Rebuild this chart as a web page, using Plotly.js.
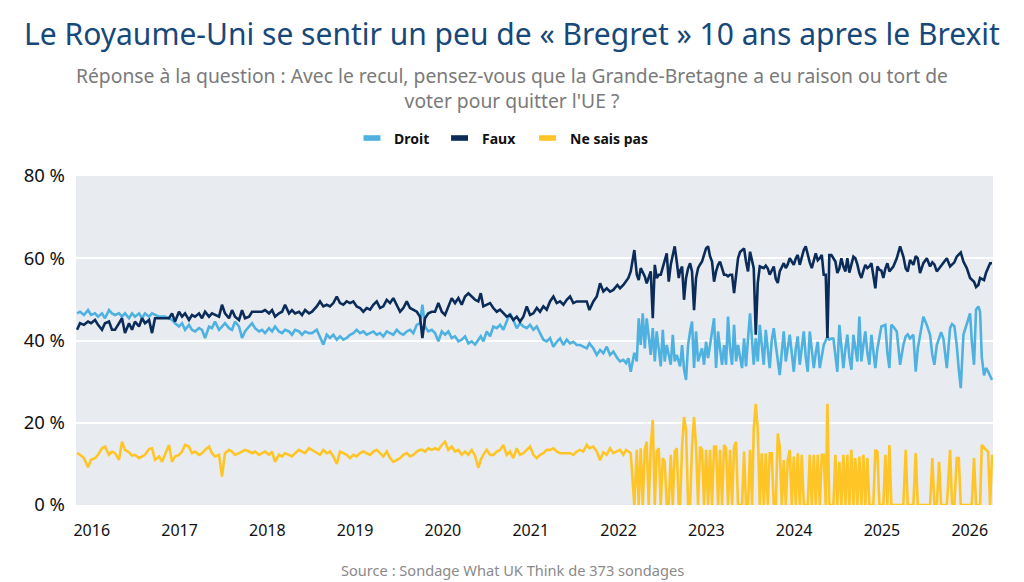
<!DOCTYPE html>
<html>
<head>
<meta charset="utf-8">
<script src="https://cdn.plot.ly/plotly-3.0.1.min.js"></script>
<style>
  html, body { margin: 0; padding: 0; background: #ffffff; }
  #chart { width: 1024px; height: 582px; }
</style>
</head>
<body>
<div id="chart"></div>
<script>
// Poll dates as decimal years (fieldwork date of each poll)
const pollDates = [
  2015.833, 2015.867, 2015.912, 2015.958, 2015.992, 2016.038, 2016.072, 2016.117, 2016.151, 2016.197,
  2016.231, 2016.265, 2016.311, 2016.345, 2016.379, 2016.425, 2016.459, 2016.493, 2016.539, 2016.573,
  2016.607, 2016.653, 2016.687, 2016.721, 2016.767, 2016.801, 2016.835, 2016.880, 2016.915, 2016.949,
  2016.994, 2017.029, 2017.063, 2017.108, 2017.142, 2017.177, 2017.222, 2017.256, 2017.291, 2017.336,
  2017.370, 2017.404, 2017.450, 2017.484, 2017.518, 2017.564, 2017.598, 2017.632, 2017.678, 2017.712,
  2017.746, 2017.792, 2017.826, 2017.860, 2017.906, 2017.940, 2017.974, 2018.019, 2018.054, 2018.088,
  2018.133, 2018.168, 2018.202, 2018.247, 2018.281, 2018.316, 2018.361, 2018.395, 2018.430, 2018.475,
  2018.509,
  2018.563, 2018.600, 2018.638, 2018.677, 2018.714, 2018.752, 2018.791, 2018.828, 2018.866, 2018.904,
  2018.942, 2018.980, 2019.018, 2019.056, 2019.093, 2019.132, 2019.170, 2019.207, 2019.246, 2019.284,
  2019.321, 2019.360, 2019.398, 2019.435, 2019.474, 2019.512, 2019.549, 2019.588, 2019.625, 2019.663,
  2019.702, 2019.739, 2019.766, 2019.796, 2019.834, 2019.873, 2019.910, 2019.948, 2019.987, 2020.024,
  2020.062, 2020.100, 2020.138, 2020.176, 2020.214, 2020.252, 2020.290, 2020.328, 2020.366, 2020.403,
  2020.431, 2020.460, 2020.499, 2020.537, 2020.574, 2020.613, 2020.651, 2020.688, 2020.727, 2020.764,
  2020.802, 2020.841, 2020.878, 2020.916, 2020.955, 2020.992, 2021.030, 2021.069, 2021.106, 2021.144,
  2021.182, 2021.220,
  2021.258, 2021.296, 2021.334, 2021.372, 2021.410, 2021.448, 2021.485, 2021.524, 2021.562, 2021.599,
  2021.638, 2021.668, 2021.713, 2021.752, 2021.790, 2021.827, 2021.866, 2021.903, 2021.941, 2021.987,
  2022.017, 2022.055, 2022.086, 2022.112, 2022.139,
  2022.180, 2022.208, 2022.230, 2022.253, 2022.276, 2022.299, 2022.321, 2022.344, 2022.367, 2022.390,
  2022.413, 2022.435, 2022.458, 2022.481, 2022.504, 2022.526, 2022.549, 2022.572, 2022.595, 2022.618,
  2022.640, 2022.663, 2022.686, 2022.701, 2022.724, 2022.746, 2022.769, 2022.792, 2022.815, 2022.837,
  2022.860, 2022.883, 2022.906, 2022.929, 2022.951, 2022.974, 2022.997, 2023.020, 2023.042, 2023.065,
  2023.088, 2023.111, 2023.134, 2023.156, 2023.179, 2023.202, 2023.225, 2023.247, 2023.270, 2023.293,
  2023.316, 2023.339, 2023.361, 2023.384, 2023.407, 2023.430, 2023.452, 2023.475, 2023.498, 2023.521,
  2023.540, 2023.563, 2023.586, 2023.609, 2023.631, 2023.654, 2023.677, 2023.700, 2023.722, 2023.745,
  2023.768, 2023.791, 2023.814, 2023.836, 2023.859, 2023.882, 2023.905, 2023.927, 2023.950, 2023.973,
  2023.996, 2024.019, 2024.041, 2024.064, 2024.087, 2024.110, 2024.132, 2024.155, 2024.178, 2024.201,
  2024.224, 2024.246, 2024.269, 2024.292, 2024.315, 2024.337, 2024.360, 2024.379, 2024.401, 2024.424,
  2024.447, 2024.470, 2024.492, 2024.515, 2024.538, 2024.561, 2024.584, 2024.606, 2024.629, 2024.652,
  2024.675, 2024.697, 2024.720, 2024.743, 2024.766, 2024.789, 2024.811, 2024.834, 2024.857, 2024.880,
  2024.902, 2024.925, 2024.948, 2024.971, 2024.994, 2025.016, 2025.039, 2025.062, 2025.085, 2025.107,
  2025.130, 2025.169, 2025.207, 2025.244, 2025.271, 2025.294, 2025.320, 2025.358, 2025.385, 2025.408,
  2025.434, 2025.472, 2025.511, 2025.548, 2025.574, 2025.597, 2025.625, 2025.651, 2025.674, 2025.700,
  2025.739, 2025.776, 2025.799, 2025.825, 2025.852, 2025.875, 2025.898, 2025.928, 2025.966, 2026.004,
  2026.023, 2026.049, 2026.072, 2026.098, 2026.118, 2026.137, 2026.163, 2026.186, 2026.209, 2026.232,
  2026.254
];

// "Droit" (right to leave), %
const droit = [
  46.6, 47.0, 46.2, 47.4, 46.2, 46.6, 45.8, 46.6, 45.4, 47.4,
  46.6, 46.2, 46.6, 45.8, 46.6, 45.4, 46.6, 45.8, 46.6, 45.4,
  46.6, 45.8, 46.6, 46.2, 45.8, 45.8, 45.8, 45.4, 45.0, 44.2,
  43.4, 44.2, 42.6, 43.8, 42.6, 42.2, 43.0, 42.6, 40.6, 43.4,
  43.0, 44.6, 42.6, 43.4, 44.2, 43.0, 42.6, 44.6, 43.4, 40.6,
  42.2, 43.4, 44.2, 43.0, 42.2, 42.6, 41.8, 43.0, 42.2, 43.4,
  42.2, 41.8, 42.6, 42.2, 41.4, 42.6, 42.2, 41.4, 42.2, 41.8,
  41.8,
  42.6, 41.0, 39.0, 41.4, 40.6, 41.4, 40.2, 41.0, 40.2, 40.6,
  41.4, 41.8, 42.6, 41.8, 42.2, 41.4, 41.8, 42.2, 41.4, 41.8,
  41.0, 42.2, 41.8, 41.4, 42.6, 41.8, 41.4, 42.2, 42.6, 41.8,
  43.8, 44.2, 48.7, 43.4, 42.2, 42.6, 41.8, 39.8, 42.2, 41.4,
  42.2, 40.6, 41.0, 39.8, 40.2, 41.0, 39.3, 39.8, 39.0, 40.2,
  41.0, 39.8, 42.2, 41.0, 43.4, 43.0, 43.8, 42.6, 44.6, 46.6,
  45.0, 43.0, 44.2, 43.4, 43.0, 43.8, 42.6, 43.4, 41.8, 40.2,
  39.8, 40.6,
  38.5, 39.7, 40.5, 38.9, 40.2, 39.3, 39.7, 38.9, 38.9, 38.5,
  38.1, 39.3, 38.1, 36.5, 37.7, 36.9, 38.5, 36.5, 37.3, 35.7,
  34.9, 35.3, 34.5, 35.7, 32.4,
  37.0, 34.9, 45.4, 38.9, 46.6, 38.1, 45.4, 41.0, 36.5, 43.0,
  34.9, 42.2, 38.0, 33.7, 42.6, 34.9, 38.9, 36.5, 34.1, 41.4,
  34.9, 36.5, 35.0, 33.7, 38.9, 33.0, 30.4, 38.9, 42.2, 44.6,
  33.3, 42.2, 34.9, 36.5, 38.1, 34.1, 39.7, 35.7, 38.5, 41.4,
  45.4, 33.3, 42.2, 38.0, 34.1, 38.9, 34.1, 45.8, 38.0, 34.1,
  43.8, 34.9, 38.9, 36.0, 33.3, 40.5, 33.7, 40.5, 46.6, 40.0,
  34.1, 40.5, 34.9, 43.8, 38.0, 34.1, 42.6, 38.0, 33.3, 40.0,
  43.0, 38.9, 35.0, 31.6, 37.0, 42.2, 34.9, 38.0, 41.4, 37.0,
  32.4, 38.0, 41.0, 34.1, 38.0, 42.2, 36.0, 32.4, 42.2, 38.0,
  33.3, 37.0, 39.7, 33.3, 36.0, 38.9, 40.0, 41.0, 40.2, 40.5,
  40.5, 36.0, 32.4, 43.8, 38.0, 33.3, 38.0, 41.4, 36.0, 32.9,
  41.4, 38.0, 34.9, 45.8, 34.9, 39.0, 42.2, 37.0, 34.1, 41.4,
  37.0, 33.3, 38.0, 40.5, 43.4, 43.6, 43.8, 37.0, 33.3, 43.8,
  43.4, 42.2, 34.1, 38.9, 41.0, 41.5, 40.5, 41.4, 32.4, 38.0,
  41.5, 45.8, 43.8, 41.4, 36.5, 34.1, 38.9, 40.5, 42.0, 40.5,
  33.3, 43.0, 44.0, 43.5, 38.9, 33.0, 28.4, 41.4, 43.8, 46.6,
  40.0, 34.1, 47.5, 48.3, 47.0, 36.0, 31.5, 33.3, 32.5, 31.6,
  30.4
];

// "Faux" (wrong to leave), %
const faux = [
  42.6, 44.2, 43.8, 44.6, 44.2, 45.0, 43.8, 42.6, 44.2, 44.6,
  42.6, 42.6, 44.2, 45.4, 41.8, 44.2, 42.6, 44.6, 43.4, 45.4,
  44.2, 45.0, 41.8, 45.4, 45.4, 45.4, 45.4, 45.4, 46.6, 44.6,
  47.0, 45.8, 46.6, 45.0, 46.2, 45.8, 46.6, 45.4, 47.0, 45.8,
  46.6, 46.2, 45.8, 48.7, 46.6, 45.4, 47.4, 45.8, 45.0, 47.4,
  45.4, 45.8, 47.0, 47.0, 47.0, 47.0, 47.4, 46.6, 47.4, 45.8,
  46.6, 47.0, 48.7, 46.6, 47.4, 46.6, 47.0, 46.2, 47.4, 46.6,
  47.0,
  48.3, 49.5, 48.3, 48.7, 48.3, 49.1, 50.7, 49.1, 48.7, 49.5,
  49.1, 49.5, 48.3, 47.9, 47.0, 47.9, 47.5, 48.7, 49.5, 47.9,
  48.3, 49.9, 49.1, 50.3, 48.7, 47.0, 47.9, 49.5, 47.9, 47.5,
  47.0, 45.8, 40.6, 45.4, 46.6, 47.0, 47.0, 49.1, 47.0, 46.2,
  48.3, 50.3, 49.1, 50.3, 48.7, 50.7, 51.5, 50.7, 49.9, 49.5,
  51.5, 48.3, 48.7, 49.1, 47.9, 47.0, 47.5, 46.6, 45.8, 46.2,
  45.0, 45.8, 44.6, 45.8, 48.3, 46.2, 46.6, 47.9, 47.0, 48.3,
  47.5, 49.5,
  50.7, 49.1, 49.5, 48.7, 49.9, 50.7, 49.1, 49.5, 49.5, 49.5,
  49.5, 47.4, 49.5, 50.7, 53.9, 51.9, 52.7, 51.9, 52.3, 53.5,
  52.7, 53.5, 54.3, 55.2, 56.8,
  62.0, 56.0, 54.7, 57.6, 56.5, 55.6, 53.9, 55.5, 56.8, 45.4,
  58.4, 55.2, 56.0, 56.0, 57.6, 59.2, 61.2, 54.3, 58.4, 60.8,
  62.9, 59.2, 55.2, 57.0, 58.0, 49.9, 55.2, 57.5, 58.8, 56.8,
  47.4, 55.2, 57.6, 58.5, 59.2, 60.8, 62.4, 62.9, 60.5, 59.2,
  54.3, 56.8, 58.4, 59.2, 57.5, 56.0, 56.0, 55.6, 56.0, 56.0,
  51.5, 56.8, 60.0, 61.5, 62.0, 62.4, 59.2, 56.8, 61.6, 59.5,
  57.6, 41.4, 54.0, 58.0, 57.8, 57.6, 58.2, 57.5, 56.0, 57.0,
  58.0, 55.0, 54.0, 56.8, 57.8, 58.8, 57.6, 58.5, 60.0, 59.0,
  58.4, 60.0, 60.8, 58.4, 60.0, 62.0, 62.9, 60.5, 59.0, 57.6,
  59.5, 61.2, 59.5, 60.0, 60.8, 56.0, 56.0, 40.6, 60.8, 60.8,
  60.0, 59.2, 56.4, 57.5, 60.0, 58.0, 56.8, 60.0, 56.5, 58.5,
  60.4, 60.0, 58.5, 56.4, 55.2, 57.0, 58.4, 57.6, 58.0, 58.8,
  56.0, 52.7, 58.0, 57.2, 57.0, 55.2, 57.5, 58.8, 56.8, 57.5,
  58.0, 60.0, 62.9, 60.4, 57.5, 56.8, 59.6, 58.4, 60.5, 60.0,
  56.4, 58.8, 60.0, 58.0, 59.0, 58.5, 56.8, 57.5, 58.2, 58.8,
  60.0, 58.0, 58.4, 59.0, 60.4, 61.0, 61.4, 59.2, 57.6, 55.2,
  54.8, 54.3, 53.0, 53.5, 55.2, 55.0, 54.7, 56.5, 57.5, 58.8,
  58.8
];

// "Ne sais pas" (don't know), %
const nsp = [
  12.6, 12.2, 11.4, 9.2, 11.0, 11.4, 12.2, 13.8, 14.2, 12.2,
  13.0, 12.6, 11.0, 15.4, 13.4, 12.8, 12.0, 12.2, 11.4, 11.8,
  12.2, 13.6, 13.8, 11.0, 11.8, 10.5, 12.2, 14.6, 10.5, 11.8,
  12.2, 13.0, 14.6, 14.2, 12.6, 13.0, 12.2, 12.6, 13.4, 14.2,
  12.6, 11.8, 12.2, 6.9, 12.6, 13.4, 13.0, 12.2, 12.6, 13.0,
  13.4, 13.0, 12.6, 13.0, 12.2, 12.6, 13.0, 12.2, 13.0, 10.5,
  12.2, 11.8, 12.6, 12.2, 11.8, 12.6, 13.4, 13.0, 12.6, 13.8,
  13.4,
  12.6, 12.2, 13.4, 12.6, 13.0, 11.8, 10.0, 13.0, 12.6, 12.2,
  11.4, 12.2, 11.8, 12.6, 13.0, 12.6, 12.2, 13.0, 13.4, 12.6,
  11.8, 13.0, 11.4, 10.5, 11.0, 11.4, 12.2, 12.6, 11.8, 12.2,
  13.0, 13.4, 13.4, 13.0, 13.8, 13.4, 13.8, 13.4, 14.6, 15.4,
  13.4, 14.2, 13.0, 13.4, 12.2, 13.0, 12.2, 13.4, 12.0, 9.0,
  11.0, 12.2, 13.4, 12.2, 12.2, 13.0, 13.4, 14.6, 12.2, 13.0,
  11.4, 13.8, 12.2, 12.6, 13.4, 14.2, 12.2, 11.4, 12.2, 12.6,
  13.4, 13.4,
  13.8, 13.0, 12.6, 12.6, 12.6, 12.6, 12.2, 13.0, 13.4, 13.0,
  14.6, 13.8, 14.2, 13.0, 10.9, 12.8, 12.2, 13.8, 12.6, 13.0,
  13.4, 12.2, 13.4, 13.0, 12.6,
  0, 13.4, 0, 13.8, 0, 13.4, 15.4, 0, 14.2, 20.7,
  0, 13.0, 13.8, 0, 11.4, 10.5, 0, 0, 12.2, 0,
  13.0, 13.8, 0, 0, 14.2, 21.4, 18.2, 0, 0, 14.2,
  21.4, 14.2, 0, 14.2, 13.4, 0, 13.4, 0, 13.4, 0,
  14.2, 14.2, 0, 13.4, 0, 14.6, 13.8, 0, 13.4, 0,
  14.2, 15.4, 0, 0, 0, 13.0, 0, 0, 13.4, 0,
  18.6, 24.6, 18.2, 0, 12.6, 0, 12.6, 0, 12.6, 12.6,
  0, 0, 17.4, 14.2, 0, 10.9, 0, 10.9, 13.4, 0,
  11.8, 0, 12.6, 0, 12.2, 0, 0, 0, 12.2, 0,
  12.2, 0, 12.2, 0, 12.2, 12.2, 0, 24.6, 0, 0,
  0, 12.2, 0, 10.5, 0, 12.2, 0, 12.2, 0, 13.4,
  0, 11.4, 0, 11.8, 0, 12.2, 0, 11.4, 0, 0,
  0, 13.4, 13.0, 0, 0, 0, 12.2, 0, 14.6, 0,
  0, 0, 0, 0, 13.4, 0, 0, 0, 12.6, 0,
  0, 0, 0, 0, 11.4, 0, 0, 10.5, 0, 0,
  0, 13.4, 0, 0, 11.4, 11.4, 0, 0, 0, 0,
  0, 11.4, 0, 0, 0, 14.6, 13.8, 13.4, 13.0, 0,
  12.2
];

const yearTicks = [2016, 2017, 2018, 2019, 2020, 2021, 2022, 2023, 2024, 2025, 2026];
const yearLabels = ['2016', '2017', '2018', '2019', '2020', '2021', '2022', '2023', '2024', '2025', '2026'];
const pctTicks = [0, 20, 40, 60, 80];
const pctLabels = ['0 %', '20 %', '40 %', '60 %', '80 %'];

const seriesNames = ['Droit', 'Faux', 'Ne sais pas'];
const seriesColors = ['#4eb1e0', '#0b2c58', '#ffc426'];

const FONT = 'Noto Sans, Open Sans, sans-serif';

const traces = [droit, faux, nsp].map((vals, i) => ({
  type: 'scatter',
  mode: 'lines',
  name: seriesNames[i],
  x: pollDates,
  y: vals,
  line: { color: seriesColors[i], width: 2.6, shape: 'linear' },
  hovertemplate: '%{y:.0f} %<extra>' + seriesNames[i] + '</extra>',
  showlegend: false
}));

// Custom legend: short thick swatches with bold labels above the plot
const legendSwatchX = [[0.3135, 0.3320], [0.4090, 0.4275], [0.5050, 0.5235]];
const legendTextX = [0.3450, 0.4405, 0.5365];
const shapes = seriesNames.map((n, i) => ({
  type: 'rect', xref: 'paper', yref: 'paper',
  x0: legendSwatchX[i][0], x1: legendSwatchX[i][1], y0: 1.107, y1: 1.124,
  fillcolor: seriesColors[i], line: { width: 0 }
}));

const annotations = seriesNames.map((n, i) => ({
  xref: 'paper', yref: 'paper', x: legendTextX[i], y: 1.1155,
  xanchor: 'left', yanchor: 'middle', showarrow: false,
  text: '<b>' + n + '</b>',
  font: { family: FONT, size: 14, color: '#111111' }
}));

annotations.push({
  xref: 'paper', yref: 'paper', x: 0.4755, y: 1.266,
  xanchor: 'center', yanchor: 'middle', showarrow: false,
  text: 'Réponse à la question : Avec le recul, pensez-vous que la Grande-Bretagne a eu raison ou tort de<br>voter pour quitter l\'UE ?',
  font: { family: FONT, size: 19.3, color: '#7a7a7a' }
});

annotations.push({
  xref: 'paper', yref: 'paper', x: 0.4755, y: -0.198,
  xanchor: 'center', yanchor: 'middle', showarrow: false,
  text: 'Source : Sondage What UK Think de 373 sondages',
  font: { family: FONT, size: 14.6, color: '#8a8a8a' }
});

const layout = {
  width: 1024,
  height: 582,
  margin: { l: 76, r: 31, t: 176, b: 77 },
  paper_bgcolor: '#ffffff',
  plot_bgcolor: '#e8ecf0',
  title: {
    text: 'Le Royaume-Uni se sentir un peu de « Bregret » 10 ans apres le Brexit',
    x: 0.5, xref: 'container', xanchor: 'center',
    y: 0.94, yref: 'container', yanchor: 'middle',
    font: { family: FONT, size: 30, color: '#17487a' }
  },
  xaxis: {
    type: 'linear',
    range: [2015.821, 2026.265],
    tickvals: yearTicks,
    ticktext: yearLabels,
    showgrid: false,
    zeroline: false,
    showline: false,
    ticks: '',
    ticklabelstandoff: 14,
    tickfont: { family: FONT, size: 16, color: '#111111' },
    fixedrange: true
  },
  yaxis: {
    range: [0, 80],
    tickvals: pctTicks,
    ticktext: pctLabels,
    showgrid: true,
    gridcolor: '#ffffff',
    gridwidth: 2,
    zeroline: false,
    showline: false,
    ticks: '',
    ticklabelstandoff: 10,
    tickfont: { family: FONT, size: 18.5, color: '#111111' },
    fixedrange: true
  },
  shapes: shapes,
  annotations: annotations,
  showlegend: false,
  hovermode: 'x unified'
};

Plotly.newPlot('chart', traces, layout, { displayModeBar: false, responsive: false });
</script>
</body>
</html>
